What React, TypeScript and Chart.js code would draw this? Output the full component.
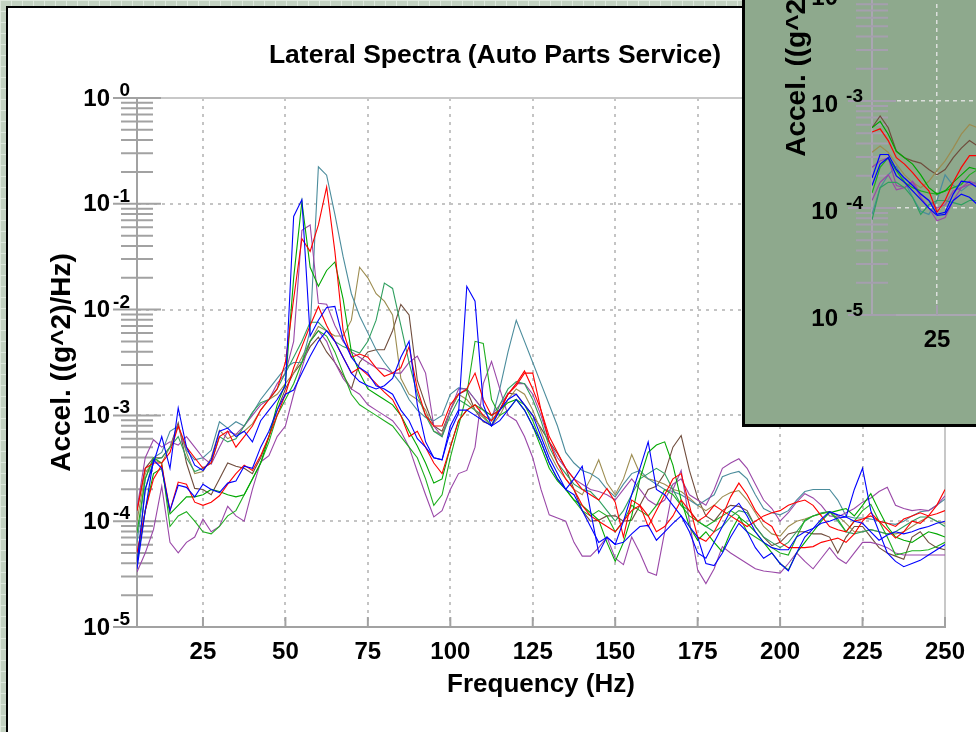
import React, { useEffect, useRef } from 'react';
import { Chart, registerables } from 'chart.js';

Chart.register(...registerables);

const FONT = "'Liberation Sans', Arial, Helvetica, sans-serif";

const TITLE = 'Lateral Spectra (Auto Parts Service)';
const X_TITLE = 'Frequency (Hz)';
const Y_TITLE = 'Accel. ((g^2)/Hz)';
const X_TICKS = [25, 50, 75, 100, 125, 150, 175, 200, 225, 250];
const Y_DECADES = [-5, -4, -3, -2, -1, 0];

// frequency axis (Hz)
const FREQ = [
  5, 7.5, 10, 12.5, 15, 17.5, 20, 22.5, 25, 27.5,
  30, 32.5, 35, 37.5, 40, 42.5, 45, 47.5, 50, 52.5,
  55, 57.5, 60, 62.5, 65, 67.5, 70, 72.5, 75, 77.5,
  80, 82.5, 85, 87.5, 90, 92.5, 95, 97.5, 100, 102.5,
  105, 107.5, 110, 112.5, 115, 117.5, 120, 122.5, 125, 127.5,
  130, 132.5, 135, 137.5, 140, 142.5, 145, 147.5, 150, 152.5,
  155, 157.5, 160, 162.5, 165, 167.5, 170, 172.5, 175, 177.5,
  180, 182.5, 185, 187.5, 190, 192.5, 195, 197.5, 200, 202.5,
  205, 207.5, 210, 212.5, 215, 217.5, 220, 222.5, 225, 227.5,
  230, 232.5, 235, 237.5, 240, 242.5, 245, 247.5, 250,
];

// main chart series, values are log10 of acceleration PSD ((g^2)/Hz)
const BLUE_A = [
  -4.4, -3.7, -3.45, -3.2, -3.5, -2.93, -3.3, -3.47, -3.52, -3.42,
  -3.15, -3.12, -3.2, -3.15, -3.25, -3.05, -2.95, -2.85, -2.72, -1.12,
  -0.96, -2.25, -2.1, -1.98, -1.97, -2.28, -2.45, -2.55, -2.6, -2.72,
  -2.75, -2.8, -2.95, -3.05, -3.22, -3.3, -3.4, -3.42, -3.1, -2.95,
  -2.95, -3.0, -3.05, -3.1, -2.95, -2.85, -2.8, -2.9, -3.0, -3.2,
  -3.4, -3.55, -3.7, -3.6, -3.48, -3.9, -4.3, -4.15, -4.22, -4.0,
  -3.75, -3.5, -3.25, -3.7, -3.75, -3.85, -3.95, -4.05, -4.15, -4.4,
  -4.42, -4.3, -4.15, -4.02, -4.1, -4.25, -4.35, -4.3, -4.4, -4.47,
  -4.3, -4.15, -4.07, -4.02, -4.0, -3.97, -3.96, -3.7, -3.5, -3.9,
  -4.1, -4.3, -4.38, -4.43, -4.4, -4.37, -4.32, -4.27, -4.22,
];
const BLUE_B = [
  -4.45, -3.9, -3.42, -3.5, -3.9, -3.66, -3.68, -3.77, -3.65, -3.7,
  -3.73, -3.64, -3.62, -3.48, -3.5, -3.3, -3.15, -2.95, -2.8, -2.76,
  -2.6, -2.44, -2.3, -2.2, -2.3, -2.45, -2.6, -2.68, -2.72, -2.75,
  -2.72, -2.65, -2.45, -2.3, -2.9, -3.25, -3.4, -3.42, -3.15, -2.98,
  -1.78, -1.92, -2.9, -3.1, -3.05, -2.95, -2.85, -2.95, -3.1, -3.25,
  -3.45, -3.6, -3.7, -3.75, -3.9, -4.05, -4.2, -4.15, -4.22, -4.2,
  -4.12, -4.05, -4.04, -4.18, -4.1, -4.02, -3.95, -4.1, -4.3, -4.35,
  -4.2, -4.05, -3.9, -3.83, -3.95, -4.1, -4.2, -4.25, -4.27, -4.27,
  -4.15, -4.1, -4.07, -3.98, -3.91, -3.94, -3.96, -4.0, -4.02, -4.1,
  -4.18, -4.13, -4.1, -4.12, -4.1, -4.07, -4.05, -4.02, -4.0,
];
const RED_A = [
  -3.9, -3.5, -3.45, -3.45, -3.35, -3.1, -3.3, -3.4, -3.5, -3.45,
  -3.2, -3.15, -3.3, -3.2, -3.1, -2.95, -2.85, -2.75, -2.5, -1.9,
  -1.33, -1.45, -1.2, -0.84, -1.45, -2.2, -2.45, -2.42, -2.45, -2.55,
  -2.63, -2.6, -2.55, -2.35, -2.75, -3.0, -3.1, -3.1, -2.9, -2.8,
  -2.75, -2.6, -2.85, -3.0, -2.95, -2.8, -2.72, -2.6, -2.6, -2.95,
  -3.2, -3.35, -3.5, -3.6, -3.7, -3.75, -3.8, -3.69, -3.82, -4.15,
  -3.8, -3.85, -4.05, -3.9, -3.75, -3.6, -3.55, -3.85, -4.15, -4.19,
  -4.1, -3.95, -3.77, -3.64, -3.75, -3.9, -4.0, -4.05, -4.2, -4.25,
  -4.25, -4.25, -4.24, -4.2, -4.18, -4.16, -4.2, -4.12, -4.0, -3.92,
  -4.0, -4.08, -4.16, -4.1, -4.0, -4.02, -3.95, -3.85, -3.7,
];
const RED_B = [
  -4.3, -3.9, -3.6, -3.47, -3.9, -3.63, -3.65, -3.82, -3.85, -3.82,
  -3.76, -3.65, -3.55, -3.47, -3.52, -3.38, -3.2, -3.0, -2.8, -2.55,
  -2.35, -2.15, -1.97, -2.15, -2.3, -2.45, -2.6, -2.55, -2.62, -2.7,
  -2.78, -2.85, -3.0, -3.2, -3.15, -3.3, -3.45, -3.55, -3.3, -3.05,
  -2.95, -2.9, -3.0, -3.05, -2.95, -2.8, -2.7, -2.58, -2.75, -2.95,
  -3.25, -3.45, -3.6, -3.7, -3.85, -3.95, -4.0, -4.05, -4.1, -4.0,
  -3.9, -3.85, -3.95, -4.1, -4.05, -3.95, -3.8, -3.9, -4.0, -3.95,
  -3.85, -3.9, -3.95, -4.0, -4.05, -4.0, -3.95, -3.92, -3.9, -3.85,
  -3.82, -3.8, -3.85, -3.95, -4.05, -4.08, -4.1, -4.0, -3.98, -3.95,
  -4.0, -4.02, -4.05, -3.98, -3.95, -3.92, -3.95, -3.93, -3.9,
];
const GREEN_A = [
  -4.4, -3.9, -3.55, -3.5, -3.93, -3.85, -3.77, -3.77, -3.75, -3.7,
  -3.72, -3.75, -3.77, -3.75, -3.6, -3.45, -3.2, -2.9, -2.7, -1.7,
  -0.98, -1.6, -1.78, -1.63, -1.55, -1.9, -2.4, -2.6, -2.75, -2.8,
  -2.85, -2.9, -3.0, -3.15, -3.29, -3.45, -3.64, -3.6, -3.3, -3.05,
  -2.95, -2.9, -2.95, -3.0, -2.95, -2.88, -2.85, -2.95, -3.1, -3.3,
  -3.5, -3.62, -3.7, -3.8, -3.85, -3.92, -3.99, -4.2, -4.38, -4.2,
  -3.95, -3.6, -3.35, -3.28, -3.25, -3.47, -3.8, -4.05, -4.18, -4.1,
  -4.2, -4.29, -4.1, -3.96, -4.02, -4.1, -4.2, -4.3, -4.4, -4.46,
  -4.3, -4.2, -4.1, -4.0, -3.92, -3.9, -3.88, -3.95, -3.85, -3.74,
  -3.9, -4.05, -4.15, -4.18, -4.2, -4.15, -4.1, -4.12, -4.15,
];
const GREEN_B = [
  -4.11, -3.6, -3.4, -3.45, -4.05, -3.95, -3.91, -4.0, -4.1, -4.12,
  -4.05, -3.95, -3.9, -3.75, -3.6, -3.45, -3.25, -3.0, -2.85, -2.7,
  -2.5, -2.3, -2.2, -2.25, -2.4, -2.6, -2.8, -2.9, -2.95, -3.0,
  -3.05, -3.1, -3.2, -3.3, -3.4, -3.6, -3.85, -3.75, -3.4, -3.1,
  -2.8, -2.3, -2.32, -2.85, -3.0, -2.95, -2.85, -2.9, -3.05, -3.25,
  -3.45, -3.6, -3.7, -3.8, -3.9, -3.95, -3.9, -3.95, -4.1, -4.0,
  -3.85, -3.9, -3.95, -3.85, -3.7, -3.75, -3.85, -3.95, -4.0, -4.05,
  -4.0, -3.95, -3.9, -3.95, -4.1, -4.15, -4.2, -4.25, -4.3, -4.32,
  -4.15, -3.99, -3.95, -3.93, -3.91, -3.98, -4.1, -4.0, -3.9, -3.84,
  -4.0, -4.15, -4.32, -4.3, -4.28, -4.28, -4.27, -4.24, -4.2,
];
const SEA_GREEN = [
  -4.4, -3.7, -3.42, -3.4, -3.3, -3.2, -3.4, -3.53, -3.5, -3.45,
  -3.2, -3.25, -3.22, -3.1, -2.97, -2.88, -2.85, -2.75, -2.6, -2.45,
  -2.3, -2.12, -2.12, -2.2, -2.3, -2.35, -2.38, -2.41, -2.3, -2.1,
  -1.75, -1.8, -2.15, -2.5, -2.8, -3.0, -3.15, -3.2, -3.0, -2.85,
  -2.9, -2.95, -3.0, -3.1, -2.9, -2.75, -2.68, -2.7, -2.85, -3.05,
  -3.3, -3.45, -3.55, -3.65, -3.7, -3.72, -3.8, -3.9, -4.0, -3.9,
  -3.75, -3.6, -3.55, -3.5, -3.55, -3.7, -3.85, -3.9, -4.0, -4.05,
  -4.1, -4.05, -3.96, -3.9, -3.92, -4.05, -4.15, -4.2, -4.25, -4.2,
  -4.1, -4.0, -3.95, -3.92, -3.91, -4.0, -4.1, -4.12, -4.1, -4.08,
  -4.1, -4.12, -4.1, -4.05, -4.0, -3.96, -3.96, -4.0, -4.05,
];
const PURPLE_A = [
  -3.88, -3.4, -3.23, -3.3, -3.25, -3.28, -3.2, -3.3, -3.4, -3.46,
  -3.3, -3.15, -3.18, -3.1, -3.0, -2.9, -2.85, -2.7, -2.6, -2.3,
  -1.25, -1.2, -1.94, -1.95, -2.15, -2.3, -2.4, -2.45, -2.5, -2.55,
  -2.56, -2.6, -2.6, -2.5, -2.44, -2.6, -3.1, -3.2, -2.95, -2.75,
  -2.75, -2.85, -2.95, -3.0, -2.9, -2.8, -2.7, -2.7, -2.8, -3.0,
  -3.25, -3.4, -3.5, -3.6, -3.65, -3.7, -3.72, -3.75, -3.8, -3.7,
  -3.6, -3.7, -3.8, -3.85, -3.8, -3.65, -3.6, -3.75, -3.8, -3.85,
  -3.7, -3.5, -3.45, -3.41, -3.5, -3.65, -3.8, -3.88, -4.0, -3.92,
  -3.82, -3.74, -3.78, -3.85, -3.95, -3.96, -3.92, -3.88, -3.82, -3.78,
  -3.72, -3.68, -3.85, -3.88, -3.9, -3.89, -3.9, -3.85, -3.76,
];
const PURPLE_B = [
  -4.48, -4.3, -4.08, -3.67, -4.2, -4.3, -4.2, -4.15, -3.98, -4.1,
  -4.05, -3.86, -3.95, -4.0, -3.7, -3.44, -3.38, -3.2, -3.1, -2.8,
  -2.55, -2.3, -2.2, -2.3, -2.5, -2.65, -2.75, -2.8, -2.9, -2.95,
  -3.0, -3.05, -3.15, -3.3, -3.53, -3.75, -3.96, -3.9, -3.7, -3.55,
  -3.52, -3.3, -2.7, -2.49, -2.75, -3.0, -3.05, -3.2, -3.4, -3.7,
  -3.94, -3.97, -4.0, -4.2, -4.33, -4.33, -4.25, -4.15, -4.35, -4.41,
  -4.15, -4.3, -4.48, -4.51, -4.1, -3.7, -3.52, -4.0, -4.46, -4.59,
  -4.45, -4.24, -4.3, -4.35, -4.4, -4.45, -4.47, -4.48, -4.49, -4.4,
  -4.3, -4.38, -4.45, -4.35, -4.25, -4.35, -4.4, -4.3, -4.2, -4.2,
  -4.22, -4.25, -4.3, -4.32, -4.32, -4.32, -4.32, -4.32, -4.32,
];
const TEAL = [
  -4.2, -3.6, -3.4, -3.35, -3.15, -3.1, -3.33, -3.42, -3.4, -3.33,
  -3.06, -3.12, -3.06, -3.1, -2.98, -2.85, -2.75, -2.65, -2.55, -2.5,
  -2.5, -2.2, -0.65, -0.73, -1.1, -1.5, -1.85, -2.06, -2.22, -2.38,
  -2.5, -2.6, -2.7, -2.85, -2.95, -3.02, -3.05, -3.0, -2.8, -2.74,
  -2.75, -2.85, -2.95, -3.05, -2.75, -2.4, -2.1, -2.3, -2.5, -2.7,
  -2.9, -3.1, -3.35, -3.45, -3.52, -3.55, -3.6, -3.7, -3.77, -3.65,
  -3.55, -3.52, -3.6, -3.65, -3.7, -3.72, -3.75, -3.8, -3.85, -3.8,
  -3.75, -3.58, -3.55, -3.53, -3.6, -3.75, -3.88, -3.92, -3.94, -3.9,
  -3.8, -3.72, -3.7, -3.7, -3.7, -3.8, -3.95, -3.97, -3.97, -3.98,
  -4.0, -4.02, -4.03, -4.0, -3.95, -3.91, -3.9, -3.85, -3.79,
];
const OLIVE = [
  -4.0, -3.55, -3.42, -3.45, -3.3, -3.1, -3.35, -3.55, -3.53, -3.4,
  -3.14, -3.22, -3.18, -3.15, -3.08, -2.95, -2.85, -2.8, -2.7, -2.6,
  -2.45, -2.3, -2.16, -2.2, -2.25, -2.25, -2.1, -1.6, -1.7, -1.85,
  -1.92, -2.05, -2.65, -2.8, -2.85, -2.95, -3.15, -3.18, -2.95, -2.8,
  -2.85, -2.95, -3.02, -3.1, -3.0, -2.85, -2.75, -2.8, -2.95, -3.15,
  -3.35, -3.5, -3.6, -3.7, -3.75, -3.6, -3.42, -3.64, -3.75, -3.6,
  -3.37, -3.55, -3.6, -3.62, -3.65, -3.7, -3.72, -3.78, -3.85, -3.9,
  -3.85, -3.77, -3.73, -3.71, -3.8, -3.92, -4.05, -4.12, -4.14, -4.05,
  -4.0, -3.98, -3.95, -3.93, -3.91, -3.95, -4.02, -4.1, -4.1, -4.08,
  -4.1, -4.12, -4.12, -4.1, -4.05, -4.0, -3.96, -4.0, -4.02,
];
const BROWN = [
  -3.9, -3.5, -3.4, -3.4, -3.3, -3.07, -3.45, -3.69, -3.7, -3.75,
  -3.6, -3.45, -3.48, -3.5, -3.55, -3.4, -3.2, -2.95, -2.75, -2.6,
  -2.5, -2.35, -2.26, -2.4, -2.5, -2.62, -2.75, -2.5, -2.4, -2.38,
  -2.38, -2.2, -1.95, -2.05, -2.67, -2.9, -3.1, -3.15, -2.95, -2.8,
  -2.76, -2.95, -3.06, -3.09, -2.95, -2.79, -2.8, -2.9, -3.0, -3.12,
  -3.25, -3.36, -3.5, -3.7, -3.9, -4.0, -3.99, -3.95, -3.95, -4.0,
  -3.99, -3.85, -3.7, -3.67, -3.55, -3.3, -3.19, -3.52, -3.78, -3.95,
  -4.0, -3.9, -3.85, -3.86, -3.9, -4.05, -4.15, -4.23, -4.2, -4.12,
  -4.1, -4.1, -4.12, -4.12, -4.15, -4.3, -4.15, -4.05, -4.05, -4.15,
  -4.25, -4.3, -4.33, -4.36, -4.15, -4.1, -4.2, -4.25, -4.27,
];

// inset (second window) series, 5..40 Hz, log10 values
const INSET_FREQ = [5, 7.5, 10, 12.5, 15, 17.5, 20, 22.5, 25, 27.5, 30, 32.5, 35, 37.5, 40];
const IN_BROWN = [-3.25, -3.14, -3.25, -3.47, -3.53, -3.56, -3.58, -3.64, -3.69, -3.64, -3.53, -3.44, -3.37, -3.42, -3.44];
const IN_RED = [-3.29, -3.26, -3.37, -3.53, -3.59, -3.67, -3.76, -3.84, -4.04, -3.93, -3.76, -3.62, -3.51, -3.51, -3.56];
const IN_GREEN = [-3.25, -3.19, -3.31, -3.47, -3.53, -3.59, -3.69, -3.81, -3.87, -3.84, -3.76, -3.69, -3.62, -3.64, -3.65];
const IN_OLIVE = [-3.48, -3.42, -3.48, -3.59, -3.69, -3.76, -3.81, -3.75, -3.65, -3.56, -3.44, -3.31, -3.22, -3.25, -3.3];
const IN_BLUE_A = [-3.72, -3.5, -3.5, -3.64, -3.72, -3.79, -3.87, -3.93, -4.06, -4.04, -3.87, -3.75, -3.76, -3.81, -3.87];
const IN_BLUE_B = [-3.79, -3.59, -3.53, -3.7, -3.76, -3.84, -3.92, -4.0, -4.07, -4.06, -3.93, -3.87, -3.9, -3.97, -4.0];
const IN_PURPLE_A = [-3.93, -3.76, -3.69, -3.83, -3.81, -3.76, -3.9, -4.0, -4.12, -4.09, -3.93, -3.81, -3.78, -3.79, -3.81];
const IN_PURPLE_B = [-3.62, -3.56, -3.53, -3.79, -3.81, -3.75, -3.87, -3.93, -4.0, -3.97, -3.84, -3.81, -3.75, -3.78, -3.81];
const IN_TEAL = [-4.06, -3.81, -3.69, -3.61, -3.75, -3.9, -4.03, -4.06, -3.93, -3.69, -3.79, -3.84, -3.78, -3.75, -3.76];
const IN_SEA_GREEN = [-4.11, -3.81, -3.76, -3.76, -3.81, -3.9, -4.06, -3.97, -3.93, -3.93, -3.95, -3.97, -3.93, -3.93, -3.95];
const IN_GREEN_B = [-3.86, -3.62, -3.53, -3.65, -3.76, -3.81, -3.84, -3.86, -3.87, -3.84, -3.81, -3.78, -3.69, -3.64, -3.64];

const C_BLUE = '#0000ff';
const C_RED = '#ff0000';
const C_GREEN = '#00a800';
const C_GREEN_B = '#1fae1f';
const C_SEA = '#2f9f5f';
const C_PURPLE = '#9a48a8';
const C_TEAL = '#4b8c9c';
const C_OLIVE = '#9c8c50';
const C_BROWN = '#6f4c3c';

const MAIN_SERIES: [number[], string][] = [
  [BLUE_A, C_BLUE], [BLUE_B, C_BLUE], [RED_A, C_RED], [RED_B, C_RED],
  [GREEN_A, C_GREEN], [GREEN_B, C_GREEN_B], [SEA_GREEN, C_SEA],
  [PURPLE_A, C_PURPLE], [PURPLE_B, C_PURPLE], [TEAL, C_TEAL], [OLIVE, C_OLIVE], [BROWN, C_BROWN],
];
const INSET_SERIES: [number[], string][] = [
  [IN_BLUE_A, C_BLUE], [IN_BLUE_B, C_BLUE], [IN_RED, C_RED], [IN_GREEN, C_GREEN],
  [IN_GREEN_B, C_GREEN_B], [IN_SEA_GREEN, C_SEA], [IN_PURPLE_A, C_PURPLE], [IN_PURPLE_B, C_PURPLE],
  [IN_TEAL, C_TEAL], [IN_OLIVE, C_OLIVE], [IN_BROWN, C_BROWN],
];

type Theme = {
  grid: string; gridWidth: number; dash: number[]; axis: string; tick: string; frame: string;
  text: string; tenRight: number; expRight: number; labelDy: number;
};

const MAIN_THEME: Theme = {
  grid: '#c4c4c4', gridWidth: 2, dash: [3, 5], axis: '#a2a2a2', tick: '#a2a2a2', frame: '#c8c8c8',
  text: '#000000', tenRight: 27, expRight: 7, labelDy: 1,
};
const INSET_THEME: Theme = {
  grid: '#dcdfdc', gridWidth: 1.5, dash: [4, 4], axis: '#aaa6b2', tick: '#a59fae', frame: '#c8c8c8',
  text: '#000000', tenRight: 34, expRight: 9, labelDy: 4,
};

const axisDecor = {
  id: 'axisDecor',
  beforeDatasetsDraw(chart: any) {
    const t: Theme = chart.options.plugins.axisDecor;
    const { ctx, chartArea: a, scales } = chart;
    const x = scales.x;
    const y = scales.y;
    ctx.save();
    ctx.lineWidth = 2;
    ctx.strokeStyle = t.frame;
    ctx.beginPath();
    ctx.moveTo(a.left, a.top);
    ctx.lineTo(a.right, a.top);
    ctx.lineTo(a.right, a.bottom);
    ctx.stroke();
    ctx.strokeStyle = t.tick;
    ctx.beginPath();
    for (const p of Y_DECADES) {
      const yy = y.getPixelForValue(Math.pow(10, p));
      ctx.moveTo(a.left - 24, yy);
      ctx.lineTo(a.left + 24, yy);
      if (p < 0) {
        for (let k = 2; k <= 9; k++) {
          const ym = y.getPixelForValue(k * Math.pow(10, p));
          ctx.moveTo(a.left - 16, ym);
          ctx.lineTo(a.left + 16, ym);
        }
      }
    }
    for (const tk of x.ticks) {
      const xx = x.getPixelForValue(tk.value);
      ctx.moveTo(xx, a.bottom);
      ctx.lineTo(xx, a.bottom - 10);
    }
    ctx.stroke();
    ctx.restore();
  },
  afterDraw(chart: any) {
    const t: Theme = chart.options.plugins.axisDecor;
    const { ctx, chartArea: a, scales } = chart;
    const y = scales.y;
    ctx.save();
    ctx.fillStyle = t.text;
    for (const p of Y_DECADES) {
      const yy = y.getPixelForValue(Math.pow(10, p));
      ctx.font = `bold 24px ${FONT}`;
      ctx.textAlign = 'right';
      ctx.textBaseline = 'middle';
      ctx.fillText('10', a.left - t.tenRight, yy + t.labelDy);
      ctx.font = `bold 19px ${FONT}`;
      ctx.textBaseline = 'alphabetic';
      ctx.fillText(String(p), a.left - t.expRight, yy - 2 + (t.labelDy - 1));
    }
    ctx.restore();
  },
};

type Geom = { w: number; h: number; chartW: number; chartH: number; title: boolean };

function makeConfig(freq: number[], series: [number[], string][], g: Geom, t: Theme, lineW: number): any {
  const datasets = series.map(([vals, color], i) => ({
    label: 'S' + (i + 1),
    data: freq.map((f, j) => ({ x: f, y: Math.pow(10, vals[j]) })),
    borderColor: color,
    backgroundColor: color,
    borderWidth: lineW,
    pointRadius: 0,
    fill: false,
    tension: 0,
  }));
  const padL = 45;
  const yW = 92;
  const padR = g.w - padL - yW - g.chartW;
  const xH = g.h - 98 - g.chartH;
  return {
    type: 'line',
    data: { datasets },
    plugins: [axisDecor],
    options: {
      responsive: false,
      animation: false,
      events: [],
      layout: { padding: { left: padL, right: padR, top: g.title ? 0 : 98, bottom: 0 } },
      plugins: {
        legend: { display: false },
        tooltip: { enabled: false },
        title: {
          display: g.title,
          text: TITLE,
          color: '#000000',
          font: { family: FONT, size: 26.5, weight: 'bold', lineHeight: 1.2 },
          padding: { top: 40.1, bottom: 26.1 },
        },
        axisDecor: t,
      },
      scales: {
        x: {
          type: 'linear',
          min: 5,
          max: 250,
          afterBuildTicks: (s: any) => { s.ticks = X_TICKS.map((v) => ({ value: v })); },
          afterFit: (s: any) => { s.height = xH; },
          grid: { color: t.grid, lineWidth: t.gridWidth, drawTicks: false },
          border: { display: true, color: t.axis, width: 2, dash: t.dash },
          ticks: {
            color: t.text,
            font: { family: FONT, size: 24, weight: 'bold', lineHeight: 1.2 },
            padding: 11,
            maxRotation: 0,
            autoSkip: false,
          },
          title: {
            display: true,
            text: X_TITLE,
            color: t.text,
            font: { family: FONT, size: 26, weight: 'bold', lineHeight: 1.2 },
            padding: { top: 0, bottom: 32 },
          },
        },
        y: {
          type: 'logarithmic',
          min: 1e-5,
          max: 1,
          afterBuildTicks: (s: any) => { s.ticks = Y_DECADES.map((p) => ({ value: Math.pow(10, p) })); },
          afterFit: (s: any) => { s.width = yW; },
          grid: { color: t.grid, lineWidth: t.gridWidth, drawTicks: false },
          border: { display: true, color: t.axis, width: 2, dash: t.dash },
          ticks: { display: false },
          title: {
            display: true,
            text: Y_TITLE,
            color: t.text,
            font: { family: FONT, size: 28, weight: 'bold', lineHeight: 1.2 },
            padding: { top: 0, bottom: 0 },
          },
        },
      },
    },
  };
}

function SpectraCanvas(props: {
  freq: number[]; series: [number[], string][]; geom: Geom; theme: Theme; lineW: number; left: number; top: number;
}) {
  const ref = useRef<HTMLCanvasElement>(null);
  const { freq, series, geom, theme, lineW, left, top } = props;
  useEffect(() => {
    const chart = new Chart(ref.current as HTMLCanvasElement, makeConfig(freq, series, geom, theme, lineW));
    return () => chart.destroy();
  }, []);
  return (
    <canvas
      ref={ref}
      width={geom.w}
      height={geom.h}
      style={{ position: 'absolute', left, top, width: geom.w, height: geom.h }}
    />
  );
}

const MAIN_GEOM: Geom = { w: 990, h: 732, chartW: 808, chartH: 529, title: true };
const INSET_GEOM: Geom = { w: 978, h: 738, chartW: 796, chartH: 535, title: false };

export default function App() {
  return (
    <div
      style={{
        position: 'fixed', left: 0, top: 0, width: 976, height: 732, overflow: 'hidden',
        backgroundColor: '#c3d2c1',
        backgroundImage:
          'linear-gradient(90deg, rgba(225,234,223,0.9) 1px, transparent 1px), linear-gradient(rgba(225,234,223,0.9) 1px, transparent 1px)',
        backgroundSize: '11px 11px',
      }}
    >
      <div
        style={{
          position: 'absolute', left: 6, top: 6, width: 1000, height: 800,
          background: '#ffffff', border: '2px solid #000000', boxSizing: 'border-box',
        }}
      />
      <SpectraCanvas freq={FREQ} series={MAIN_SERIES} geom={MAIN_GEOM} theme={MAIN_THEME} lineW={1.1} left={0} top={0} />
      <div
        style={{
          position: 'absolute', left: 742, top: -3, width: 260, height: 430,
          background: '#8ea98d', border: '3px solid #000000', boxSizing: 'border-box', overflow: 'hidden',
        }}
      >
        <SpectraCanvas freq={INSET_FREQ} series={INSET_SERIES} geom={INSET_GEOM} theme={INSET_THEME} lineW={1.2} left={-10} top={-318} />
      </div>
    </div>
  );
}
